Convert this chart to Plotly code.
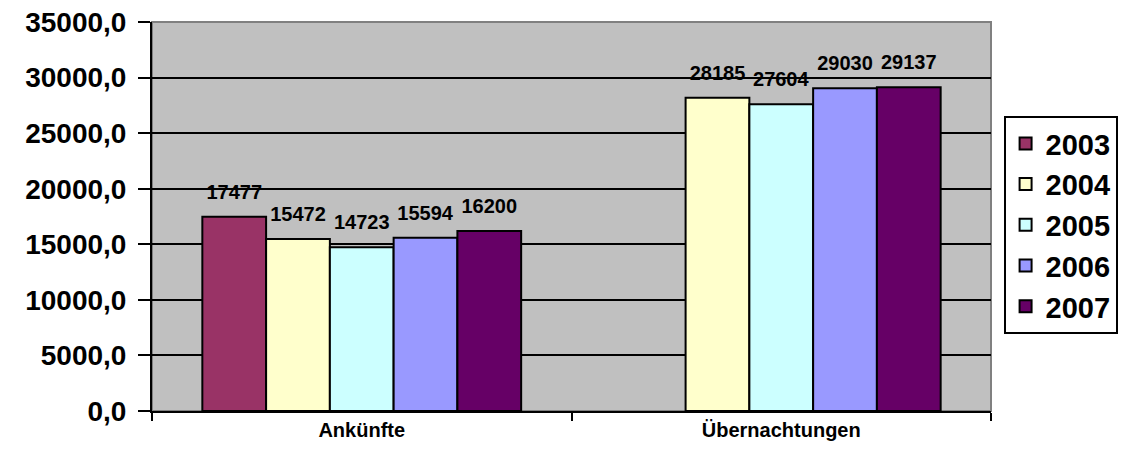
import plotly.graph_objects as go

categories = ["Ankünfte", "Übernachtungen"]
years = ["2003", "2004", "2005", "2006", "2007"]
values_2003 = [17477, None]
values_2004 = [15472, 28185]
values_2005 = [14723, 27604]
values_2006 = [15594, 29030]
values_2007 = [16200, 29137]
series_values = [values_2003, values_2004, values_2005, values_2006, values_2007]
colors = ["#993366", "#FFFFCC", "#CCFFFF", "#9999FF", "#660066"]
y_ticks = [0, 5000, 10000, 15000, 20000, 25000, 30000, 35000]

FONT = "Liberation Sans, Arial, sans-serif"

fig = go.Figure()
for yr, vals, col in zip(years, series_values, colors):
    fig.add_trace(go.Bar(
        name=yr, x=categories, y=vals,
        marker=dict(color=col, line=dict(color="black", width=2)),
        text=[("" if v is None else str(v)) for v in vals],
        texttemplate="<span style='font-size:20px'>%{text}</span><br><span style='color:rgba(0,0,0,0)'>.</span>",
        textposition="outside",
        textfont=dict(family=FONT, size=10, color="black", weight="bold"),
        cliponaxis=False,
        legendgroup=yr,
    ))

fig.update_layout(
    width=1122, height=451,
    margin=dict(l=144, r=130, t=14, b=48),
    paper_bgcolor="white",
    plot_bgcolor="#C0C0C0",
    barmode="group",
    bargap=0.24,
    bargroupgap=0,
    separators=", ",
    showlegend=True,
    legend=dict(
        x=1.015, xanchor="left", y=0.478, yanchor="middle",
        bgcolor="white", bordercolor="black", borderwidth=2,
        font=dict(family=FONT, size=29, color="black", weight="bold"),
        traceorder="normal", tracegroupgap=26,
    ),
    xaxis=dict(
        automargin=False,
        showline=True, linecolor="black", linewidth=2,
        ticks="outside", tickson="boundaries", ticklen=8, tickwidth=2, tickcolor="black",
        tickfont=dict(family=FONT, size=20, color="black", weight="bold"),
        showgrid=False,
    ),
    yaxis=dict(
        automargin=False,
        range=[0, 35000], tickvals=y_ticks, tickformat=".1f",
        ticklabeloverflow="allow",
        showline=True, linecolor="black", linewidth=2,
        ticks="outside", ticklen=12, tickwidth=2, tickcolor="black",
        ticklabelstandoff=6,
        tickfont=dict(family=FONT, size=28, color="black", weight="bold"),
        showgrid=True, gridcolor="black", gridwidth=2,
        zeroline=False,
    ),
    shapes=[dict(type="rect", xref="paper", yref="paper", x0=0, x1=1, y0=0, y1=1,
                 line=dict(color="#808080", width=2), layer="below")],
)

fig.write_html("out.html")
